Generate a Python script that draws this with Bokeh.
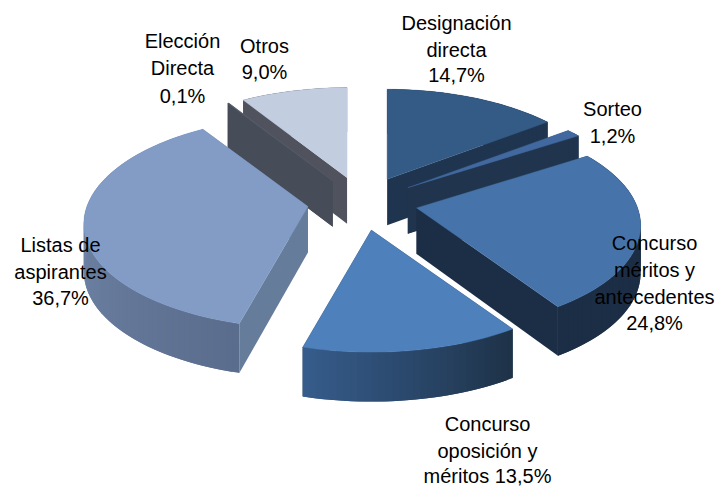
import math
from bokeh.plotting import figure
from bokeh.models import ColumnDataSource, Range1d
from bokeh.core.properties import value
from bokeh.embed import file_html
from bokeh.resources import INLINE

# ---- data ----
categories = ["Designación directa", "Sorteo", "Concurso méritos y antecedentes",
              "Concurso oposición y méritos", "Listas de aspirantes", "Elección Directa", "Otros"]
shares = [14.7, 1.2, 24.8, 13.5, 36.7, 0.1, 9.0]
label_lines = [["Designación", "directa", "14,7%"],
               ["Sorteo", "1,2%"],
               ["Concurso", "méritos y", "antecedentes", "24,8%"],
               ["Concurso", "oposición y", "méritos 13,5%"],
               ["Listas de", "aspirantes", "36,7%"],
               ["Elección", "Directa", "0,1%"],
               ["Otros", "9,0%"]]

# ---- style / layout ----
top_col = ["#345a86", "#41699f", "#4674aa", "#4e80bb", "#829cc6", "#5a6070", "#c3cde0"]
face_col = ["#1f354f", "#21344e", "#1c2e45", "#1f3349", "#667c9b", "#474c59", "#50535e"]
rim_from = ["#1f354f", "#21344e", "#1c2e45", "#1e3248", "#5b6d8d", "#474c59", "#50535e"]
rim_to = ["#1f354f", "#21344e", "#1c2e45", "#365c8b", "#8098bc", "#474c59", "#50535e"]
label_xy = [(456, [22, 49, 74]), (612, [108, 135]), (654, [242, 269, 296, 322]),
            (487, [423, 450, 475]), (60, [244, 271, 297]), (182, [40, 67, 95]), (264, [45, 71])]
draw_order = [0, 1, 2, 6, 5, 4, 3]
CX, CY, R, RK, PERSP_X, PERSP_Y, EXPLODE = 362, 202, 221, 103.6, 0.165, 0.151, 0.25


def hexmix(a, b, t):
    ca = [int(a[i:i + 2], 16) for i in (1, 3, 5)]
    cb = [int(b[i:i + 2], 16) for i in (1, 3, 5)]
    return "#%02x%02x%02x" % tuple(round(x + (y - x) * t) for x, y in zip(ca, cb))


def rim_pt(apex, th):
    u, v = math.sin(th), math.cos(th)
    return apex[0] + R * u / (1 + PERSP_X * v), apex[1] - RK * v / (1 + PERSP_Y * v)


def depth(th):
    return 47 - 2.5 * math.cos(th)


total = sum(shares)
p = figure(width=720, height=488, output_backend="svg", toolbar_location=None,
           x_range=Range1d(0, 720), y_range=Range1d(488, 0), min_border=0,
           background_fill_color="white", border_fill_color="white", outline_line_color=None)
p.axis.visible = False
p.grid.visible = False

starts = []
acc = 0
for s in shares:
    starts.append(acc)
    acc += s

for i in draw_order:
    a0 = starts[i] / total * 2 * math.pi
    a1 = (starts[i] + shares[i]) / total * 2 * math.pi
    mid = (a0 + a1) / 2
    mv = math.cos(mid)
    apex = (CX + EXPLODE * R * math.sin(mid),
            CY - EXPLODE * RK * mv * (1 + 0.08 * max(0, -mv)))
    n = max(2, int(math.degrees(a1 - a0) / 1.5))
    ths = [a0 + (a1 - a0) * k / n for k in range(n + 1)]
    pts = [rim_pt(apex, t) for t in ths]

    # radial faces
    d_apex = 46
    for t, q in ((a0, pts[0]), (a1, pts[-1])):
        p.patch([apex[0], q[0], q[0], apex[0]],
                [apex[1], q[1], q[1] + depth(t), apex[1] + d_apex],
                fill_color=face_col[i], line_color=None)

    # outer wall: each quad overlaps the next, so no seams appear in the gradient
    for k in range(n):
        k2 = min(k + 2, n)
        q0, q1 = pts[k], pts[k2]
        d0, d1 = depth(ths[k]), depth(ths[k2])
        col = hexmix(rim_from[i], rim_to[i], k / max(1, n - 1))
        p.patch([q0[0], q1[0], q1[0], q0[0]],
                [q0[1], q1[1], q1[1] + d1, q0[1] + d0],
                fill_color=col, line_color=None)

    # top
    p.patch([apex[0]] + [q[0] for q in pts], [apex[1]] + [q[1] for q in pts],
            fill_color=top_col[i], line_color=top_col[i], line_width=0.4)

tx, ty, tt = [], [], []
for lines, (x, yy) in zip(label_lines, label_xy):
    for line, y in zip(lines, yy):
        tx.append(x)
        ty.append(y)
        tt.append(line)
p.text(x="x", y="y", text="t", source=ColumnDataSource(dict(x=tx, y=ty, t=tt)),
       text_font=value("Liberation Sans"), text_font_size=value("20px"), text_color="#000000",
       text_align="center", text_baseline="middle")

open("out.html", "w").write(file_html(p, INLINE))
